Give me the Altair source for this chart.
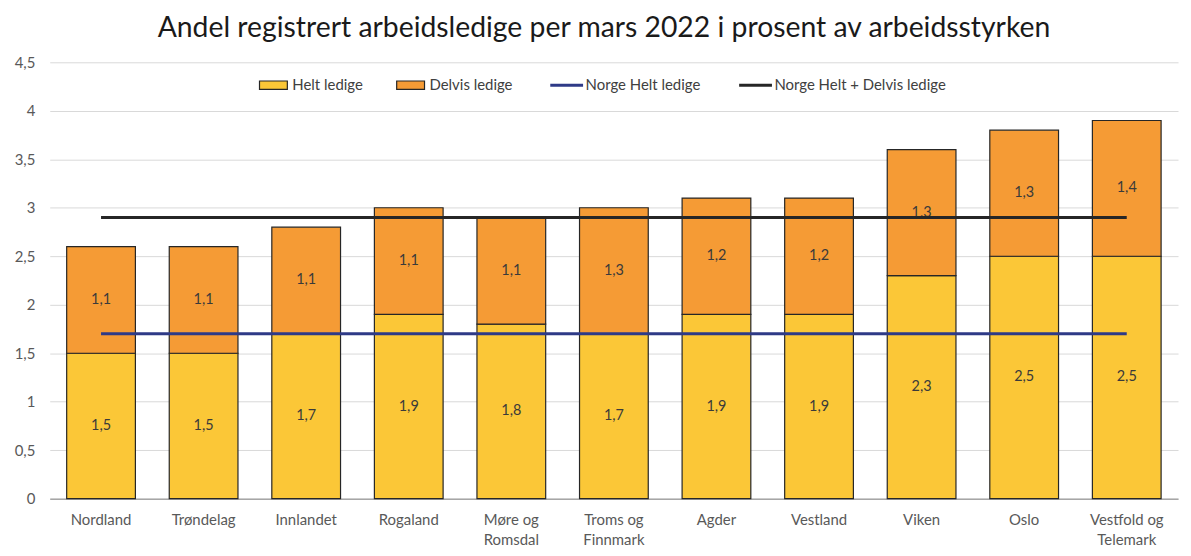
import altair as alt
import pandas as pd

regions = ["Nordland", "Trøndelag", "Innlandet", "Rogaland", "Møre og Romsdal",
           "Troms og Finnmark", "Agder", "Vestland", "Viken", "Oslo", "Vestfold og Telemark"]
helt = [1.5, 1.5, 1.7, 1.9, 1.8, 1.7, 1.9, 1.9, 2.3, 2.5, 2.5]
delvis = [1.1, 1.1, 1.1, 1.1, 1.1, 1.3, 1.2, 1.2, 1.3, 1.3, 1.4]
norge_helt = 1.7
norge_total = 2.9

bar_series = ["Helt ledige", "Delvis ledige"]
bar_colors = ["#FBC737", "#F59B35"]
line_series = ["Norge Helt ledige", "Norge Helt + Delvis ledige"]
line_colors = ["#2E3A87", "#262626"]

FONT = "Lato"

rows = []
for i, r in enumerate(regions):
    rows.append({"region": r, "serie": "Helt ledige", "start": 0.0, "end": helt[i], "v": helt[i]})
    rows.append({"region": r, "serie": "Delvis ledige", "start": helt[i], "end": helt[i] + delvis[i], "v": delvis[i]})
bars_df = pd.DataFrame(rows)

lines_df = pd.DataFrame([
    {"region": regions[0], "serie": line_series[0], "v": norge_helt},
    {"region": regions[-1], "serie": line_series[0], "v": norge_helt},
    {"region": regions[0], "serie": line_series[1], "v": norge_total},
    {"region": regions[-1], "serie": line_series[1], "v": norge_total},
])

x_enc = alt.X(
    "region:N", sort=regions, title=None,
    scale=alt.Scale(paddingInner=0.33, paddingOuter=0.165),
    axis=alt.Axis(
        labelAngle=0, ticks=False, domainColor="#a6a6a6", domainWidth=1.5,
        labelFont=FONT, labelFontSize=15, labelColor="#595959", labelPadding=14,
        labelLineHeight=20,
        labelExpr="indexof(datum.value, ' og ') >= 0 ? [split(datum.value, ' og ')[0] + ' og', split(datum.value, ' og ')[1]] : datum.value",
    ),
)

y_scale = alt.Scale(domain=[0, 4.5], nice=False)
y_axis = alt.Axis(
    values=[0, 0.5, 1, 1.5, 2, 2.5, 3, 3.5, 4, 4.5],
    labelExpr="replace(format(datum.value, '.2~f'), '.', ',')",
    domain=False, ticks=False, gridColor="#d9d9d9", gridWidth=1,
    labelFont=FONT, labelFontSize=15, labelColor="#595959", labelPadding=15, title=None,
)

bars = alt.Chart(bars_df).mark_bar(stroke="#262626", strokeWidth=1.2).encode(
    x=x_enc,
    y=alt.Y("start:Q", scale=y_scale, axis=y_axis),
    y2="end:Q",
    color=alt.Color(
        "serie:N", scale=alt.Scale(domain=bar_series, range=bar_colors),
        legend=alt.Legend(
            title=None, orient="none", direction="horizontal", legendX=210, legendY=8,
            labelFont=FONT, labelFontSize=15, labelColor="#404040", labelOffset=4,
            labelLimit=300,
            columnPadding=31, symbolSize=784, symbolType="M-1,-0.3H1V0.3H-1Z",
            symbolStrokeColor="#262626", symbolStrokeWidth=1.2, symbolOpacity=1,
        ),
    ),
)

labels = alt.Chart(bars_df).transform_calculate(
    mid="(datum.start + datum.end) / 2",
    txt="replace(format(datum.v, '.1f'), '.', ',')",
).mark_text(font=FONT, fontSize=14.5, color="#3a3a3a").encode(
    x=alt.X("region:N", sort=regions),
    y=alt.Y("mid:Q", scale=y_scale),
    text="txt:N",
)

lines = alt.Chart(lines_df).mark_line(strokeWidth=3).encode(
    x=alt.X("region:N", sort=regions),
    y=alt.Y("v:Q", scale=y_scale),
    stroke=alt.Stroke(
        "serie:N", scale=alt.Scale(domain=line_series, range=line_colors),
        legend=alt.Legend(
            title=None, orient="none", direction="horizontal", legendX=502, legendY=5,
            labelFont=FONT, labelFontSize=15, labelColor="#404040", labelOffset=1,
            labelLimit=300,
            columnPadding=32, symbolSize=1089, symbolType="stroke", symbolStrokeWidth=3,
        ),
    ),
    detail="serie:N",
)

chart = alt.layer(bars, labels, lines).properties(
    width=1135, height=439,
    title=alt.Title(
        "Andel registrert arbeidsledige per mars 2022 i prosent av arbeidsstyrken",
        font=FONT, fontSize=28.5, fontWeight="normal", color="#1a1a1a", offset=13,
        anchor="middle", frame="group", dx=-10,
    ),
    autosize=alt.AutoSizeParams(type="none"),
    padding={"left": 42, "top": 53, "right": 5, "bottom": 50},
).configure_view(stroke=None)

chart.save("out.html", embed_options={"renderer": "svg", "actions": False})
